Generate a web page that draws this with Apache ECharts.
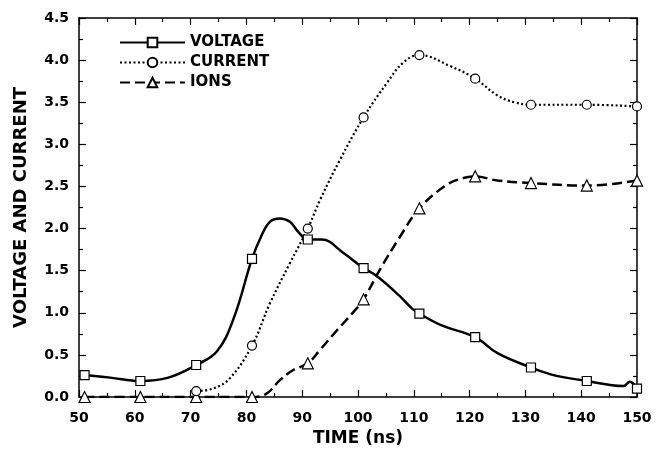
<!DOCTYPE html>
<html>
<head>
<meta charset="utf-8">
<script src="https://cdn.jsdelivr.net/npm/echarts@6/dist/echarts.min.js"></script>
<style>html,body{margin:0;padding:0;background:#fff}#c{width:664px;height:451px}</style>
</head>
<body>
<div id="c"></div>
<script>
// Measured data points (markers)
const voltageX = [51, 61, 71, 81, 91, 101, 111, 121, 131, 141, 150];
const voltageY = [0.26, 0.19, 0.38, 1.64, 1.87, 1.53, 0.99, 0.71, 0.35, 0.19, 0.10];
const currentX = [71, 81, 91, 101, 111, 121, 131, 141, 150];
const currentY = [0.07, 0.61, 2.00, 3.32, 4.06, 3.78, 3.47, 3.47, 3.45];
const ionsX = [51, 61, 71, 81, 91, 101, 111, 121, 131, 141, 150];
const ionsY = [0.00, 0.00, 0.00, 0.00, 0.40, 1.16, 2.24, 2.62, 2.54, 2.51, 2.57];

// Extra points (no markers)
const voltageCurve = [[55.6,0.23],[66,0.23],[74.7,0.54],[77.7,0.93],[82.6,1.90],[84.2,2.08],[86,2.12],[87.8,2.08],[89.3,1.96],[93.5,1.87],[97.4,1.71],[103.3,1.44],[107.3,1.21],[109.7,1.05],[115,0.85],[125,0.52],[135,0.26],[145.5,0.14],[147.6,0.13],[148.7,0.18]];
const currentCurve = [[74,0.10],[77,0.22],[84.2,1.11],[87.8,1.59],[93.2,2.34],[96.8,2.82],[105.2,3.73],[108.1,3.97],[116.5,3.93],[125,3.58],[128,3.50]];
const ionsCurve = [[83.6,0.04],[86,0.20],[88.4,0.32],[93.2,0.56],[96.2,0.79],[99.2,1.01],[103.9,1.51],[107.5,1.90],[115.9,2.52],[118.9,2.60],[125,2.57]];

const seriesNames = ['VOLTAGE', 'CURRENT', 'IONS'];
const xTicks = [50, 150, 10];
const yTicks = [0, 4.5, 0.5];
const xName = 'TIME (ns)';
const yName = 'VOLTAGE AND CURRENT';

function build(xs, ys, curve) {
  const pts = xs.map((x, i) => ({ value: [x, ys[i]] }));
  curve.forEach(p => pts.push({ value: p, symbol: 'none' }));
  pts.sort((a, b) => a.value[0] - b.value[0]);
  return pts;
}

const FONT = 'DejaVu Sans';
const lbl = { color: '#000', fontFamily: FONT, fontWeight: 'bold', fontSize: 14 };
const mk = (pos, show) => ({
  type: 'value', position: pos, min: xTicks[0], max: xTicks[1], interval: xTicks[2],
  axisLine: { show: true, onZero: false, lineStyle: { color: '#000', width: 1.5 } },
  axisTick: { show: true, inside: true, length: 7, lineStyle: { color: '#000', width: 1.2 } },
  minorTick: { show: true, splitNumber: 2, length: 4, lineStyle: { color: '#000', width: 1.2 } },
  splitLine: { show: false },
  axisLabel: Object.assign({ show: show, margin: 14 }, lbl)
});
const mky = (pos, show) => ({
  type: 'value', position: pos, min: yTicks[0], max: yTicks[1], interval: yTicks[2],
  axisLine: { show: true, onZero: false, lineStyle: { color: '#000', width: 1.5 } },
  axisTick: { show: true, inside: true, length: 7, lineStyle: { color: '#000', width: 1.2 } },
  minorTick: { show: true, splitNumber: 2, length: 4, lineStyle: { color: '#000', width: 1.2 } },
  splitLine: { show: false },
  axisLabel: Object.assign({ show: show, margin: 10, formatter: v => v.toFixed(1) }, lbl)
});

const xBottom = Object.assign(mk('bottom', true), {
  name: xName, nameLocation: 'middle', nameGap: 33,
  nameTextStyle: { color: '#000', fontFamily: FONT, fontWeight: 'bold', fontSize: 17 }
});
const yLeft = Object.assign(mky('left', true), {
  name: yName, nameLocation: 'middle', nameGap: 49, nameRotate: 90,
  nameTextStyle: { color: '#000', fontFamily: FONT, fontWeight: 'bold', fontSize: 18 }
});

const sym = { color: '#fff', borderColor: '#000', borderWidth: 1.2 };

const chart = echarts.init(document.getElementById('c'), null, { renderer: 'canvas' });
chart.setOption({
  animation: false,
  backgroundColor: '#fff',
  grid: { left: 79, right: 27, top: 18, bottom: 54, containLabel: false, outerBoundsMode: 'none' },
  legend: {
    orient: 'vertical', left: 114, top: 30, itemWidth: 65, itemHeight: 12, itemGap: 5,
    data: seriesNames,
    textStyle: { color: '#000', fontFamily: FONT, fontWeight: 'bold', fontSize: 15 }
  },
  xAxis: [xBottom, mk('top', false)],
  yAxis: [yLeft, mky('right', false)],
  series: [
    { name: seriesNames[0], type: 'line', smooth: 0.4, showAllSymbol: true,
      symbol: 'rect', symbolSize: 9, itemStyle: sym,
      lineStyle: { color: '#000', width: 2.5, type: 'solid' },
      data: build(voltageX, voltageY, voltageCurve), z: 4 },
    { name: seriesNames[1], type: 'line', smooth: 0.4, showAllSymbol: true,
      symbol: 'circle', symbolSize: 9, itemStyle: sym,
      lineStyle: { color: '#000', width: 2.2, type: [2, 2.5] },
      data: build(currentX, currentY, currentCurve), z: 3 },
    { name: seriesNames[2], type: 'line', smooth: 0.4, showAllSymbol: true,
      symbol: 'triangle', symbolSize: 11, itemStyle: sym,
      lineStyle: { color: '#000', width: 2.5, type: [10, 5] },
      data: build(ionsX, ionsY, ionsCurve), z: 2 }
  ]
});
</script>
</body>
</html>
